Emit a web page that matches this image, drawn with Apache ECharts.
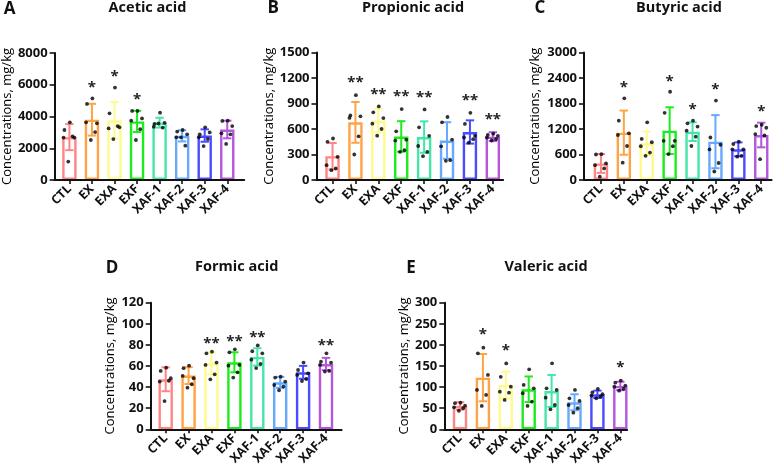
<!DOCTYPE html>
<html><head><meta charset="utf-8">
<script src="https://cdn.jsdelivr.net/npm/echarts@6/dist/echarts.min.js"></script>
<style>html,body{margin:0;padding:0;background:#fff}#c{width:777px;height:470px}</style>
</head><body><div id="c"></div>
<script>
// ---------------- DATA ----------------
const categories = ['CTL','EX','EXA','EXF','XAF-1','XAF-2','XAF-3','XAF-4'];

// A - Acetic acid
const aceticMean = [2700, 3800, 3760, 3690, 3610, 2780, 2800, 3180];
const aceticSD   = [820, 1000, 1150, 670, 310, 350, 390, 555];
const aceticDots = [
  [3630, 3150, 2670, 2670, 2750, 1160],
  [5140, 4790, 3570, 3630, 3020, 2520],
  [5820, 4200, 3320, 3250, 3400, 2580],
  [4350, 4350, 3880, 3740, 3200, 2520],
  [4240, 3530, 3600, 3350, 3300, 3560],
  [3150, 3050, 2880, 2690, 2160, 2690],
  [3320, 2880, 3000, 2690, 2580, 2140],
  [3740, 3720, 3400, 2940, 2880, 2270]
];
const aceticStars = ['', '*', '*', '*', '', '', '', ''];
const aceticTicks = [0, 2000, 4000, 6000, 8000];

// B - Propionic acid
const propionicMean = [280, 678, 700, 512, 505, 465, 565, 510];
const propionicSD   = [155, 240, 140, 180, 185, 215, 137, 52];
const propionicDots = [
  [488, 449, 273, 175, 136, 116],
  [998, 760, 749, 730, 514, 300],
  [866, 796, 729, 663, 600, 522],
  [835, 573, 475, 464, 351, 331],
  [830, 620, 520, 400, 330, 280],
  [741, 678, 476, 396, 233, 226],
  [790, 660, 520, 500, 480, 440],
  [545, 530, 520, 500, 480, 465]
];
const propionicStars = ['', '**', '**', '**', '**', '', '**', '**'];
const propionicTicks = [0, 300, 600, 900, 1200, 1500];

// C - Butyric acid
const butyricMean = [389, 1114, 863, 1161, 1138, 902, 722, 1059];
const butyricSD   = [222, 520, 277, 550, 220, 625, 163, 290];
const butyricDots = [
  [608, 600, 389, 350, 272, 78],
  [1921, 1396, 1098, 1059, 800, 407],
  [1357, 966, 888, 794, 646, 568],
  [2076, 1580, 922, 922, 794, 611],
  [1396, 1334, 1256, 1161, 1020, 800],
  [1870, 1000, 830, 720, 400, 200],
  [902, 847, 722, 722, 568, 550],
  [1300, 1270, 1230, 1080, 1050, 490]
];
const butyricStars = ['', '*', '', '*', '*', '*', '', '*'];
const butyricTicks = [0, 600, 1200, 1800, 2400, 3000];

// D - Formic acid
const formicMean = [47.4, 50.9, 62.5, 63.5, 68.6, 44.5, 54, 61.9];
const formicSD   = [11.3, 8, 10.7, 9.5, 8.2, 5.2, 6.1, 5.8];
const formicDots = [
  [58.4, 55.3, 48.4, 45.2, 46, 26.8],
  [60.3, 57.9, 48.4, 50.6, 42.7, 39.5],
  [73.6, 72, 63.2, 61, 52.1, 47.4],
  [75.8, 73, 61, 60.3, 54, 49],
  [79.5, 74, 72, 66, 62, 58],
  [49.9, 49, 45.2, 42, 40.5, 37],
  [63.2, 56.2, 53.1, 51.5, 47.7, 45.8],
  [72, 64.1, 63.2, 61, 55.3, 54.7]
];
const formicStars = ['', '', '**', '**', '**', '', '', '**'];
const formicTicks = [0, 20, 40, 60, 80, 100, 120];

// E - Valeric acid
const valericMean = [55.3, 122.4, 105.1, 94.8, 90.8, 64, 83, 102.7];
const valericSD   = [9, 56, 31.6, 30.4, 38, 19, 8.6, 10];
const valericDots = [
  [63, 62, 56, 52, 50, 44],
  [193.5, 180, 128.8, 93.2, 81.4, 55.3],
  [156, 124.4, 101, 89.2, 86.8, 69.5],
  [142.2, 105.1, 97.2, 85.4, 65.6, 55.3],
  [156.4, 97.2, 93.2, 75, 57.6, 47.4],
  [93.2, 73.5, 67.2, 57.6, 50, 39.5],
  [95.6, 87.7, 83, 79.8, 77.4, 73.5],
  [115.4, 110.6, 103.5, 101, 95.6, 91.6]
];
const valericStars = ['', '*', '*', '', '', '', '', '*'];
const valericTicks = [0, 50, 100, 150, 200, 250, 300];

// ---------------- STYLE / LAYOUT ----------------
const colors = ['#FF8585', '#FFA347', '#FFFA8C', '#1EEB1E', '#45E6A8', '#67A9FF', '#4B4BFF', '#B457DD'];
const JITTER = [0.02, -0.22, 0.22, -0.26, 0.14, -0.05];
const FONT = "'Open Sans', sans-serif";
const INK = '#111';
const UNIT = 22.9;

const panels = [
  {letter:'A', title:'Acetic acid', mean:aceticMean, sd:aceticSD, dots:aceticDots, stars:aceticStars, ticks:aceticTicks,
   left:51.7, top:53, height:127, xMin:-0.655, xMax:7.75, nameGap:39, starGap:11, tx:147.5, ty:8, lx:9.5, ly:9},
  {letter:'B', title:'Propionic acid', mean:propionicMean, sd:propionicSD, dots:propionicDots, stars:propionicStars, ticks:propionicTicks,
   left:316.5, top:52.5, height:127.5, xMin:-0.7, xMax:7.45, nameGap:38, starGap:12, tx:413, ty:8, lx:273.3, ly:8},
  {letter:'C', title:'Butyric acid', mean:butyricMean, sd:butyricSD, dots:butyricDots, stars:butyricStars, ticks:butyricTicks,
   left:584, top:52.5, height:127.5, xMin:-0.74, xMax:7.45, nameGap:42, starGap:10.5, tx:679, ty:8, lx:540, ly:8},
  {letter:'D', title:'Formic acid', mean:formicMean, sd:formicSD, dots:formicDots, stars:formicStars, ticks:formicTicks,
   left:150.7, top:302.7, height:126.6, xMin:-0.655, xMax:7.68, nameGap:34, starGap:8, tx:236.7, ty:266.5, lx:112, ly:268},
  {letter:'E', title:'Valeric acid', mean:valericMean, sd:valericSD, dots:valericDots, stars:valericStars, ticks:valericTicks,
   left:444.3, top:302.7, height:126.6, xMin:-0.686, xMax:7.3, nameGap:34, starGap:12.5, tx:546, ty:266.7, lx:411, ly:268}
];

const idx = categories.map((_, i) => i);
const grids = [], xAxes = [], yAxes = [], series = [], graphics = [];

panels.forEach((p, g) => {
  grids.push({left:p.left, top:p.top, width:(p.xMax - p.xMin) * UNIT, height:p.height, containLabel:false});
  xAxes.push({
    type:'value', gridIndex:g, min:p.xMin, max:p.xMax, z:10,
    axisLine:{show:true, onZero:false, lineStyle:{color:INK, width:2}},
    axisTick:{show:true, customValues:idx, length:4, lineStyle:{color:INK, width:1.6}},
    axisLabel:{customValues:idx, formatter:v => categories[Math.round(v)], rotate:45, margin:7,
      fontFamily:FONT, fontWeight:'bold', fontSize:12.5, color:INK},
    splitLine:{show:false}
  });
  const tk = p.ticks;
  yAxes.push({
    type:'value', gridIndex:g, min:tk[0], max:tk[tk.length-1], interval:tk[1]-tk[0], z:10,
    axisLine:{show:true, onZero:false, lineStyle:{color:INK, width:2}},
    axisTick:{show:true, length:5, lineStyle:{color:INK, width:1.6}},
    axisLabel:{margin:7, formatter:v => String(v), fontFamily:FONT, fontWeight:'bold', fontSize:13, color:INK},
    splitLine:{show:false},
    name:'Concentrations, mg/kg', nameLocation:'middle', nameGap:p.nameGap,
    nameTextStyle:{fontFamily:FONT, fontSize:13, fontWeight:500, color:'#000'}
  });
  // bars
  series.push({
    type:'bar', xAxisIndex:g, yAxisIndex:g, barWidth:14.4, silent:true, z:2,
    itemStyle:{color:'#fff', borderWidth:2.4},
    data:p.mean.map((m, i) => ({value:[i, m], itemStyle:{borderColor:colors[i]}}))
  });
  // error bars
  series.push({
    type:'custom', xAxisIndex:g, yAxisIndex:g, silent:true, z:3,
    data:p.mean.map((m, i) => [i, m, p.sd[i]]),
    renderItem:(params, api) => {
      const x = api.value(0), m = api.value(1), s = api.value(2);
      const t = api.coord([x, m + s]), b = api.coord([x, m - s]);
      const c = colors[params.dataIndex], hw = 4.2, st = {stroke:c, lineWidth:2};
      return {type:'group', children:[
        {type:'line', shape:{x1:t[0], y1:t[1], x2:b[0], y2:b[1]}, style:st},
        {type:'line', shape:{x1:t[0]-hw, y1:t[1], x2:t[0]+hw, y2:t[1]}, style:st},
        {type:'line', shape:{x1:b[0]-hw, y1:b[1], x2:b[0]+hw, y2:b[1]}, style:st}
      ]};
    }
  });
  // dots
  const pts = [];
  p.dots.forEach((arr, i) => arr.forEach((v, k) => pts.push([i + JITTER[k], v])));
  series.push({
    type:'scatter', xAxisIndex:g, yAxisIndex:g, silent:true, z:4,
    symbolSize:3.8, itemStyle:{color:'#000'}, data:pts
  });
  // significance stars
  series.push({
    type:'custom', xAxisIndex:g, yAxisIndex:g, silent:true, z:5,
    data:p.mean.map((m, i) => [i, Math.max(m + p.sd[i], ...p.dots[i])]),
    renderItem:(params, api) => {
      const s = p.stars[params.dataIndex];
      if (!s) return null;
      const c = api.coord([api.value(0), api.value(1)]);
      return {type:'text', x:c[0], y:c[1] - p.starGap,
        style:{text:s, fill:'#222', font:'bold 15px ' + FONT, textAlign:'center', textVerticalAlign:'middle'}};
    }
  });
  graphics.push({type:'text', x:p.tx, y:p.ty, style:{text:p.title, fill:INK,
    font:'bold 14.5px ' + FONT, textAlign:'center', textVerticalAlign:'middle'}});
  graphics.push({type:'text', x:p.lx, y:p.ly, style:{text:p.letter, fill:INK,
    font:'bold 17px ' + FONT, textAlign:'center', textVerticalAlign:'middle'}});
});

const chart = echarts.init(document.getElementById('c'), null, {renderer:'canvas'});
chart.setOption({
  animation:false, backgroundColor:'#fff',
  grid:grids, xAxis:xAxes, yAxis:yAxes, series:series, graphic:graphics
});
</script></body></html>
